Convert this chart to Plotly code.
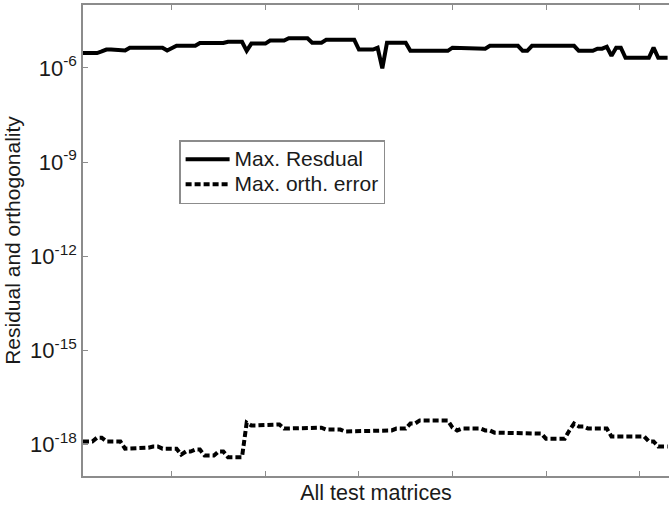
import plotly.graph_objects as go

# ---- data (log10 values), test matrix index 1..126 ----
matrix_index = list(range(1, 127))

residual_log10 = (
    [-5.53] * 4 + [-5.48] + [-5.42] * 3 + [-5.45] * 2 +          # 1-10
    [-5.36] * 8 + [-5.45] + [-5.36] +                             # 11-20
    [-5.30] * 5 + [-5.21] * 6 + [-5.17] * 4 +                     # 21-35
    [-5.46] + [-5.23] * 4 + [-5.13] * 4 + [-5.06] * 5 +           # 36-49
    [-5.20] * 3 + [-5.11] * 7 + [-5.42] * 4 + [-5.36] +           # 50-64
    [-6.02] + [-5.20] * 5 + [-5.46] * 9 + [-5.36] * 5 +           # 65-84
    [-5.39] * 3 + [-5.30] * 7 + [-5.46] * 2 + [-5.30] * 10 +      # 85-106
    [-5.46] * 4 + [-5.39] * 2 + [-5.33] + [-5.62] + [-5.36] * 2 + # 107-116
    [-5.68] * 6 + [-5.36] + [-5.68] * 3                           # 117-126
)

orth_log10 = (
    [-17.90] * 3 + [-17.78] * 2 + [-17.90] * 4 +                  # 1-9
    [-18.13] * 3 + [-18.10] * 3 + [-18.06] * 2 + [-18.13] * 4 +   # 10-21
    [-18.32] + [-18.22] * 2 + [-18.16] * 2 + [-18.35] * 3 +       # 22-29
    [-18.22] * 2 + [-18.40] * 4 +                                 # 30-35
    [-17.30] + [-17.39] * 3 + [-17.36] * 4 + [-17.49] * 5 +       # 36-48
    [-17.46] * 4 + [-17.52] * 4 + [-17.58] * 6 +                  # 49-62
    [-17.55] * 5 + [-17.49] * 3 + [-17.33] * 2 + [-17.23] * 7 +   # 63-79
    [-17.46] + [-17.55] + [-17.49] * 5 + [-17.55] * 2 +           # 80-88
    [-17.62] * 6 + [-17.65] * 5 + [-17.81] * 5 +                  # 89-104
    [-17.55] + [-17.33] + [-17.42] * 2 + [-17.49] * 5 +           # 105-113
    [-17.74] * 8 + [-17.90] * 2 + [-18.06] * 3                    # 114-126
)

series_names = ["Max. Resdual", "Max. orth. error"]

residual = [10 ** v for v in residual_log10]
orth_error = [10 ** v for v in orth_log10]

y_tick_vals = [1e-18, 1e-15, 1e-12, 1e-9, 1e-6]
y_tick_text = ["10<sup>-18</sup>", "10<sup>-15</sup>", "10<sup>-12</sup>",
               "10<sup>-9</sup>", "10<sup>-6</sup>"]
x_tick_vals = [20, 40, 60, 80, 100, 120]

FONT = "Liberation Sans, Arial, sans-serif"
AXIS = "#8c8c8c"
TXT = "#1a1a1a"


def legend_label(s):
    return '<span style="font-size:21px">' + s + "</span>"


fig = go.Figure()
fig.add_trace(go.Scatter(
    x=matrix_index, y=residual, mode="lines", name=legend_label(series_names[0]),
    line=dict(color="black", width=4, shape="linear"),
))
fig.add_trace(go.Scatter(
    x=matrix_index, y=orth_error, mode="lines", name=legend_label(series_names[1]),
    line=dict(color="black", width=4, dash="6px,3px"),
))

fig.update_layout(
    width=669, height=512,
    margin=dict(l=83, r=0, t=5, b=36),
    paper_bgcolor="white", plot_bgcolor="white",
    font=dict(family=FONT, color="black", size=20),
    showlegend=True,
    legend=dict(
        x=0.164, y=0.713, xanchor="left", yanchor="top",
        bgcolor="white", bordercolor=AXIS, borderwidth=1.5,
        font=dict(family=FONT, size=17, color=TXT),
        itemwidth=44,
    ),
    xaxis=dict(
        range=[1, 126.3],
        tickvals=x_tick_vals, ticktext=[""] * len(x_tick_vals),
        ticks="inside", ticklen=5, tickcolor=AXIS, tickwidth=1,
        showline=True, linecolor=AXIS, linewidth=1.5, mirror="ticks",
        showgrid=False, zeroline=False,
        title=dict(text="All test matrices", font=dict(family=FONT, size=21.5, color=TXT), standoff=4),
    ),
    yaxis=dict(
        type="log", range=[-19, -4],
        tickvals=y_tick_vals, ticktext=y_tick_text,
        ticks="inside", ticklen=5, tickcolor=AXIS, tickwidth=1,
        showline=True, linecolor=AXIS, linewidth=1.5,
        showgrid=False, zeroline=False,
        tickfont=dict(family=FONT, size=22, color=TXT),
        title=dict(text="Residual and orthogonality", font=dict(family=FONT, size=21, color=TXT), standoff=4),
    ),
)

fig.write_html("out.html")
